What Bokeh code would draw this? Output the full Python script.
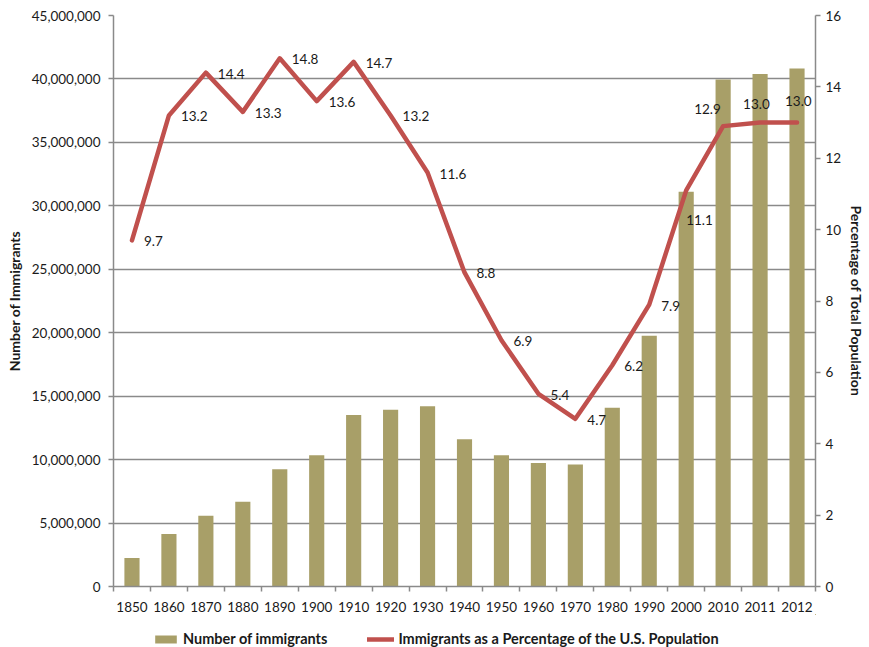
from bokeh.plotting import figure
from bokeh.layouts import column
from bokeh.models import (Range1d, LinearAxis, FixedTicker,
                          NumeralTickFormatter, Legend, LegendItem)
from bokeh.core.properties import value
from bokeh.embed import file_html
from bokeh.resources import INLINE

# ---- data ----
years = ["1850", "1860", "1870", "1880", "1890", "1900", "1910", "1920", "1930", "1940",
         "1950", "1960", "1970", "1980", "1990", "2000", "2010", "2011", "2012"]
immigrants = [2244602, 4138697, 5567229, 6679943, 9249547, 10341276, 13515886, 13920692,
              14204149, 11594896, 10347395, 9738091, 9619302, 14079906, 19767316,
              31107889, 39955854, 40381574, 40824658]
pct_of_pop = [9.7, 13.2, 14.4, 13.3, 14.8, 13.6, 14.7, 13.2, 11.6, 8.8, 6.9, 5.4, 4.7,
              6.2, 7.9, 11.1, 12.9, 13.0, 13.0]
left_ticks = [0, 5000000, 10000000, 15000000, 20000000, 25000000, 30000000, 35000000,
              40000000, 45000000]
right_ticks = [0, 2, 4, 6, 8, 10, 12, 14, 16]
series_names = ["Number of immigrants", "Immigrants as a Percentage of the U.S. Population"]
left_title = "Number of Immigrants"
right_title = "Percentage of Total Population"

# category slots on a numeric scale (one unit per category, centred)
n = len(years)
xpos = [i + 0.5 for i in range(n)]
bounds = list(range(n + 1))

# ---- styling ----
FONT = "Lato"
GRID_C = "#8a8a8a"
BAR_C = "#A89F68"
LINE_C = "#C0504D"
TXT_C = "#1a1a1a"
label_dx = [12] * 15 + [0, -29, -17, -12]
label_dy = [1] * 15 + [30, -17, -19, -22]

W = 869
p = figure(width=W, height=614,
           x_range=Range1d(0, n), y_range=Range1d(0, 45000000),
           output_backend="svg", toolbar_location=None,
           x_axis_location=None, y_axis_location="left",
           min_border_left=113, min_border_right=54, min_border_top=15, min_border_bottom=26)
p.outline_line_color = None
p.background_fill_color = "white"
p.border_fill_color = "white"
p.extra_y_ranges = {"pct": Range1d(0, 16)}

# left axis
ya = p.yaxis[0]
ya.ticker = FixedTicker(ticks=left_ticks)
ya.formatter = NumeralTickFormatter(format="0,0")
ya.major_tick_out = 5
ya.major_tick_in = 0
ya.minor_tick_out = 0
ya.minor_tick_in = 0
ya.axis_line_color = GRID_C
ya.axis_line_width = 1.5
ya.major_tick_line_color = GRID_C
ya.major_tick_line_width = 1.5
ya.major_label_standoff = 8
ya.major_label_text_font = FONT
ya.major_label_text_font_size = "13.5px"
ya.major_label_text_color = TXT_C
ya.axis_label = left_title
ya.axis_label_text_font = FONT
ya.axis_label_text_font_style = "bold"
ya.axis_label_text_font_size = "14px"
ya.axis_label_text_color = TXT_C
ya.axis_label_standoff = 6

p.ygrid.ticker = FixedTicker(ticks=left_ticks)
p.ygrid.grid_line_color = GRID_C
p.ygrid.grid_line_width = 1.6
p.xgrid.grid_line_color = None

# right axis
ra = LinearAxis(y_range_name="pct", ticker=FixedTicker(ticks=right_ticks),
                major_tick_out=5, major_tick_in=0, minor_tick_out=0, minor_tick_in=0,
                axis_line_color=GRID_C, axis_line_width=1.5,
                major_tick_line_color=GRID_C, major_tick_line_width=1.5,
                major_label_standoff=5, major_label_text_font=FONT,
                major_label_text_font_size="13.5px", major_label_text_color=TXT_C,
                axis_label=right_title, axis_label_text_font=FONT,
                axis_label_text_font_style="bold", axis_label_text_font_size="14px",
                axis_label_text_color=TXT_C, axis_label_standoff=4)
p.add_layout(ra, "right")

# bottom: boundary ticks (no labels) + category labels
tick_axis = LinearAxis(ticker=FixedTicker(ticks=bounds),
                       major_label_overrides={b: "" for b in bounds},
                       major_label_text_font_size="1px", major_label_standoff=0,
                       major_tick_out=5, major_tick_in=0, minor_tick_out=0, minor_tick_in=0,
                       axis_line_color=GRID_C, axis_line_width=1.5,
                       major_tick_line_color=GRID_C, major_tick_line_width=1.5)
p.add_layout(tick_axis, "below")
cat_axis = LinearAxis(ticker=FixedTicker(ticks=xpos),
                      major_label_overrides={x: y for x, y in zip(xpos, years)},
                      axis_line_color=None, major_tick_line_color=None,
                      major_tick_out=0, major_tick_in=0, minor_tick_out=0, minor_tick_in=0,
                      major_label_standoff=10, major_label_text_font=FONT,
                      major_label_text_font_size="13.5px", major_label_text_color=TXT_C)
p.add_layout(cat_axis, "below")

# glyphs
bars = p.vbar(x=xpos, top=immigrants, width=0.41, fill_color=BAR_C, line_color=None)
line = p.line(x=xpos, y=pct_of_pop, y_range_name="pct", line_color=LINE_C, line_width=4.5,
              line_join="round", line_cap="round")
p.text(x=xpos, y=pct_of_pop, text=[f"{v:.1f}" for v in pct_of_pop], y_range_name="pct",
       x_offset=label_dx, y_offset=label_dy, text_font=value(FONT),
       text_font_size=value("13.5px"), text_baseline="middle", text_align="left",
       text_color=TXT_C)

# legend strip (separate figure under the chart; its series renderers sit outside its view)
lg = figure(width=W, height=33, output_backend="svg", toolbar_location=None,
            x_axis_location=None, y_axis_location=None, min_border=0,
            x_range=Range1d(-3, -2), y_range=Range1d(-3, -2))
lg.outline_line_color = None
lg.xgrid.grid_line_color = None
lg.ygrid.grid_line_color = None
lbar = lg.vbar(x=xpos, top=immigrants, width=0.41, fill_color=BAR_C, line_color=None)
lline = lg.line(x=xpos, y=pct_of_pop, line_color=LINE_C, line_width=4.5, line_cap="round")
legend = Legend(items=[LegendItem(label=series_names[0], renderers=[lbar]),
                       LegendItem(label=series_names[1], renderers=[lline])],
                orientation="horizontal", location=(39, 0),
                border_line_color=None, background_fill_alpha=0,
                padding=0, margin=0, spacing=40, label_height=16,
                glyph_width=27, glyph_height=10, label_standoff=4,
                label_text_font=FONT, label_text_font_style="bold",
                label_text_font_size="14.5px", label_text_color=TXT_C)
lg.add_layout(legend)

open("out.html", "w").write(file_html(column(p, lg, spacing=0), INLINE))
